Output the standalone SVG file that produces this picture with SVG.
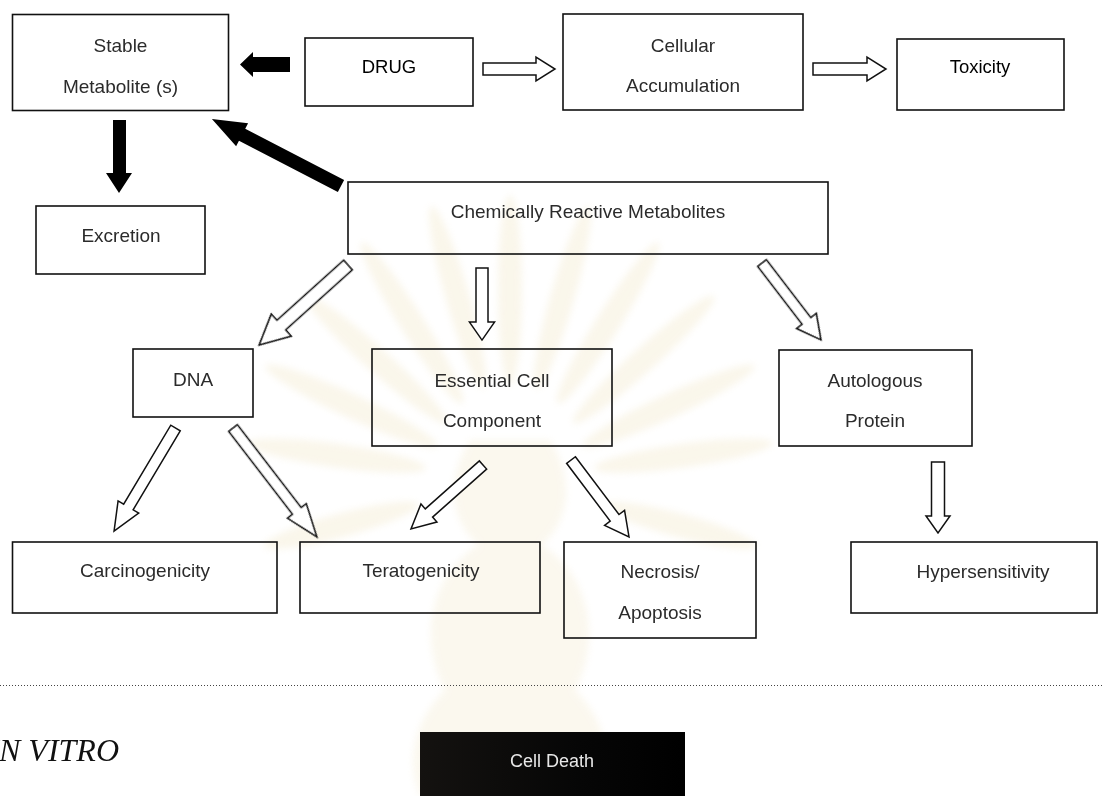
<svg xmlns="http://www.w3.org/2000/svg" width="1104" height="796" viewBox="0 0 1104 796">
  <style>
    .box { fill: none; stroke: #111; stroke-width: 1.6; }
    .lbl { font-family: "Liberation Sans", Arial, sans-serif; font-size: 19px; fill: #2b2b2b; text-anchor: middle; }
    .lbl-dark { font-size: 18.5px; fill: #000; }
    .hollow { fill: #fff; stroke: #111; stroke-width: 1.5; stroke-linejoin: miter; }
    .solid { fill: #000; }
    .ray { fill: #f4ecd3; }
    .urn { fill: #f6efda; }
  </style>
  <defs>
    <filter id="soft" x="-20%" y="-20%" width="140%" height="140%">
      <feGaussianBlur stdDeviation="3.5"/>
    </filter>
    <linearGradient id="darkFill" x1="0" y1="0" x2="1" y2="0">
      <stop offset="0" stop-color="#141210"/>
      <stop offset="0.6" stop-color="#060606"/>
      <stop offset="1" stop-color="#000"/>
    </linearGradient>
  </defs>

  <rect width="1104" height="796" fill="#fff"/>

  <!-- pale background emblem: fan of rays over an urn -->
  <g id="watermark" opacity="0.45" filter="url(#soft)">
    <g transform="translate(510,480)">
      <ellipse class="ray" cx="-175" cy="0" rx="80" ry="12" transform="rotate(-15)"/>
      <ellipse class="ray" cx="-175" cy="0" rx="90" ry="12" transform="rotate(8)"/>
      <ellipse class="ray" cx="-175" cy="0" rx="95" ry="12" transform="rotate(25)"/>
      <ellipse class="ray" cx="-180" cy="0" rx="95" ry="12" transform="rotate(42)"/>
      <ellipse class="ray" cx="-185" cy="0" rx="95" ry="12" transform="rotate(58)"/>
      <ellipse class="ray" cx="-190" cy="0" rx="95" ry="12" transform="rotate(74)"/>
      <ellipse class="ray" cx="-190" cy="0" rx="95" ry="12" transform="rotate(90)"/>
      <ellipse class="ray" cx="-190" cy="0" rx="95" ry="12" transform="rotate(106)"/>
      <ellipse class="ray" cx="-185" cy="0" rx="95" ry="12" transform="rotate(122)"/>
      <ellipse class="ray" cx="-180" cy="0" rx="95" ry="12" transform="rotate(138)"/>
      <ellipse class="ray" cx="-175" cy="0" rx="95" ry="12" transform="rotate(155)"/>
      <ellipse class="ray" cx="-175" cy="0" rx="90" ry="12" transform="rotate(172)"/>
      <ellipse class="ray" cx="-175" cy="0" rx="80" ry="12" transform="rotate(195)"/>
    </g>
    <path class="urn" d="M470,440 C445,480 450,520 478,545 C430,575 418,640 445,690 C415,720 405,760 420,796 L600,796 C615,760 605,720 575,690 C602,640 590,575 542,545 C570,520 575,480 550,440 Z"/>
  </g>

  <!-- connectors -->
  <g id="connectors">
    <!-- solid arrows -->
    <path class="solid" d="M290,57 H253 V52 L240,64.5 L253,77 V72 H290 Z"/>
    <path class="solid" d="M113,120 H126 V173 H132 L119,193 L106,173 H113 Z"/>
    <path class="solid" transform="translate(341,186) rotate(207.4)" d="M0,-6.8 H111.4 V-13 L145.4,0 L111.4,13 V6.8 H0 Z"/>

    <!-- hollow arrows -->
    <path class="hollow" d="M483,63 H536 V57 L555,69 L536,81 V75 H483 Z"/>
    <path class="hollow" d="M813,63 H867 V57 L886,69 L867,81 V75 H813 Z"/>
    <path class="hollow" transform="translate(348,265) rotate(138)" d="M0,-6.5 H89.7 V-15 L119.7,0 L89.7,15 V6.5 H0 Z"/>
    <path class="hollow" transform="translate(482,268) rotate(90)" d="M0,-6 H54 V-12.5 L72,0 L54,12.5 V6 H0 Z"/>
    <path class="hollow" transform="translate(762,263) rotate(52.5)" d="M0,-5.5 H73 V-12.5 L97,0 L73,12.5 V5.5 H0 Z"/>
    <path class="hollow" transform="translate(175.5,428) rotate(120.8)" d="M0,-5.5 H92 V-12 L120,0 L92,12 V5.5 H0 Z"/>
    <path class="hollow" transform="translate(233,428) rotate(52.4)" d="M0,-5.5 H104.6 V-12 L137.6,0 L104.6,12 V5.5 H0 Z"/>
    <path class="hollow" transform="translate(483,465) rotate(138.4)" d="M0,-5.5 H72.3 V-12 L96.3,0 L72.3,12 V5.5 H0 Z"/>
    <path class="hollow" transform="translate(571,460) rotate(53)" d="M0,-5.5 H72.4 V-12.5 L96.4,0 L72.4,12.5 V5.5 H0 Z"/>
    <path class="hollow" transform="translate(938,462) rotate(90)" d="M0,-6.5 H54 V-12 L71,0 L54,12 V6.5 H0 Z"/>
  </g>

  <!-- nodes -->
  <g id="stable">
    <rect class="box" x="12.5" y="14.5" width="216" height="96"/>
    <text class="lbl" x="120.5" y="52">Stable</text>
    <text class="lbl" x="120.5" y="93">Metabolite (s)</text>
  </g>
  <g id="drug">
    <rect class="box" x="305" y="38" width="168" height="68"/>
    <text class="lbl lbl-dark" x="389" y="73">DRUG</text>
  </g>
  <g id="cellular">
    <rect class="box" x="563" y="14" width="240" height="96"/>
    <text class="lbl" x="683" y="52">Cellular</text>
    <text class="lbl" x="683" y="92">Accumulation</text>
  </g>
  <g id="toxicity">
    <rect class="box" x="897" y="39" width="167" height="71"/>
    <text class="lbl lbl-dark" x="980" y="73">Toxicity</text>
  </g>
  <g id="excretion">
    <rect class="box" x="36" y="206" width="169" height="68"/>
    <text class="lbl" x="121" y="242">Excretion</text>
  </g>
  <g id="reactive">
    <rect class="box" x="348" y="182" width="480" height="72"/>
    <text class="lbl" x="588" y="218">Chemically Reactive Metabolites</text>
  </g>
  <g id="dna">
    <rect class="box" x="133" y="349" width="120" height="68"/>
    <text class="lbl" x="193" y="386">DNA</text>
  </g>
  <g id="essential">
    <rect class="box" x="372" y="349" width="240" height="97"/>
    <text class="lbl" x="492" y="387">Essential Cell</text>
    <text class="lbl" x="492" y="427">Component</text>
  </g>
  <g id="autologous">
    <rect class="box" x="779" y="350" width="193" height="96"/>
    <text class="lbl" x="875" y="387">Autologous</text>
    <text class="lbl" x="875" y="427">Protein</text>
  </g>
  <g id="carcinogenicity">
    <rect class="box" x="12.5" y="542" width="264.5" height="71"/>
    <text class="lbl" x="145" y="577">Carcinogenicity</text>
  </g>
  <g id="teratogenicity">
    <rect class="box" x="300" y="542" width="240" height="71"/>
    <text class="lbl" x="421" y="577">Teratogenicity</text>
  </g>
  <g id="necrosis">
    <rect class="box" x="564" y="542" width="192" height="96"/>
    <text class="lbl" x="660" y="578">Necrosis/</text>
    <text class="lbl" x="660" y="619">Apoptosis</text>
  </g>
  <g id="hypersensitivity">
    <rect class="box" x="851" y="542" width="246" height="71"/>
    <text class="lbl" x="983" y="578">Hypersensitivity</text>
  </g>

  <!-- divider and lower section -->
  <line x1="0" y1="685.5" x2="1104" y2="685.5" stroke="#444" stroke-width="1" stroke-dasharray="1 2"/>
  <text x="119" y="761" font-family="'Liberation Serif', 'Times New Roman', serif" font-style="italic" font-size="32" fill="#111" text-anchor="end">IN VITRO</text>
  <g id="cell-death">
    <rect x="420" y="732" width="265" height="70" fill="url(#darkFill)"/>
    <text class="lbl" x="552" y="767" style="fill:#e8e8e8;font-size:18px">Cell Death</text>
  </g>
</svg>
